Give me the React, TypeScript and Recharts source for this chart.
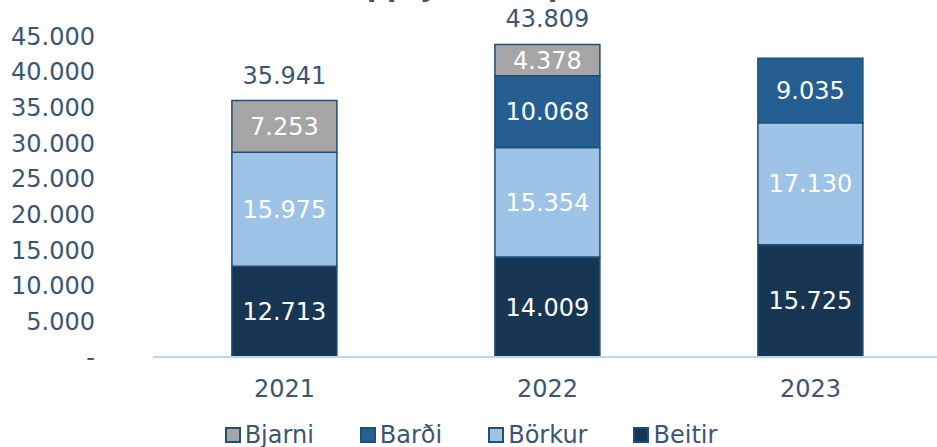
import { BarChart, Bar, XAxis, YAxis, Legend, LabelList } from 'recharts';

const years = ['2021', '2022', '2023'];
const beitir = [12713, 14009, 15725];
const borkur = [15975, 15354, 17130];
const bardi = [0, 10068, 9035];
const bjarni = [7253, 4378, 0];
const totals = [35941, 43809, 41890];
const yTicks = [0, 5000, 10000, 15000, 20000, 25000, 30000, 35000, 40000, 45000];

const series = [
  { key: 'beitir', name: 'Beitir', color: '#173654' },
  { key: 'borkur', name: 'Börkur', color: '#9DC3E6' },
  { key: 'bardi', name: 'Barði', color: '#255E91' },
  { key: 'bjarni', name: 'Bjarni', color: '#A5A5A5' },
];

const data = years.map((year, i) => ({
  year,
  beitir: beitir[i],
  borkur: borkur[i],
  bardi: bardi[i],
  bjarni: bjarni[i],
  total: totals[i],
}));

const FONT = '"DejaVu Sans", Verdana, sans-serif';
const TEXT = '#3A5673';
const EDGE = '#1F4E79';

const fmt = (v: number) => String(v).replace(/\B(?=(\d{3})+(?!\d))/g, '.');
const segLabel = (v: any) => (v ? fmt(Number(v)) : '');

function LegendBox() {
  // legend runs top of stack first
  const items = [...series].reverse();
  return (
    <div
      style={{
        height: 30,
        boxSizing: 'border-box',
        paddingTop: 6,
        display: 'flex',
        justifyContent: 'center',
        alignItems: 'center',
        fontFamily: FONT,
        fontSize: 24,
        lineHeight: '24px',
        color: TEXT,
      }}
    >
      {items.map((s) => (
        <div key={s.key} style={{ display: 'flex', alignItems: 'center', margin: '0 23px' }}>
          <span
            style={{
              width: 12,
              height: 12,
              background: s.color,
              border: `2px solid ${EDGE}`,
              marginRight: 4,
              display: 'inline-block',
            }}
          />
          <span>{s.name}</span>
        </div>
      ))}
    </div>
  );
}

export default function App() {
  return (
    <div style={{ width: 937, height: 447, overflow: 'hidden', position: 'relative', background: '#fff' }}>
      <style>{'body{margin:0}'}</style>
      <div
        style={{
          position: 'absolute',
          top: -27,
          left: 285,
          fontFamily: FONT,
          fontWeight: 'bold',
          fontSize: 28,
          lineHeight: '28px',
          color: TEXT,
          whiteSpace: 'nowrap',
        }}
      >
        Afli uppsjávarskipa
      </div>
      <BarChart
        width={945}
        height={447}
        data={data}
        margin={{ top: 36, right: 3, left: 0, bottom: 0 }}
        barCategoryGap="30%"
      >
        <XAxis
          dataKey="year"
          height={60}
          axisLine={{ stroke: '#BDD7EE', strokeWidth: 2 }}
          tickLine={false}
          tickSize={0}
          tickMargin={23}
          tick={{ fill: TEXT, fontSize: 24, fontFamily: FONT }}
        />
        <YAxis
          width={153}
          domain={[0, 45000]}
          ticks={yTicks}
          interval={0}
          axisLine={false}
          tickLine={false}
          tickSize={0}
          tickMargin={58}
          tickFormatter={(v: number) => (v === 0 ? '-' : fmt(v))}
          tick={{ fill: TEXT, fontSize: 24, fontFamily: FONT }}
        />
        <Legend verticalAlign="bottom" content={() => <LegendBox />} />
        {series.map((s, idx) => (
          <Bar
            key={s.key}
            dataKey={s.key}
            name={s.name}
            stackId="a"
            fill={s.color}
            stroke={EDGE}
            strokeWidth={1.5}
            isAnimationActive={false}
          >
            <LabelList
              dataKey={s.key}
              position="center"
              formatter={segLabel}
              fill="#fff"
              style={{ fontSize: 24, fontFamily: FONT }}
            />
            {idx === series.length - 1 && (
              <LabelList
                dataKey="total"
                position="top"
                offset={17}
                formatter={segLabel}
                fill={TEXT}
                style={{ fontSize: 24, fontFamily: FONT }}
              />
            )}
          </Bar>
        ))}
      </BarChart>
    </div>
  );
}
